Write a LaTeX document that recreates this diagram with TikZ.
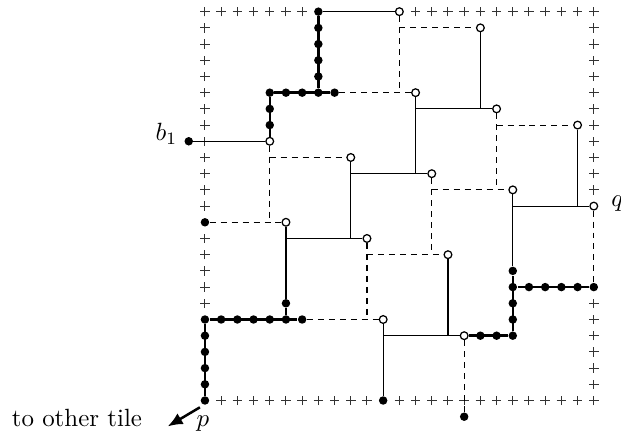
\documentclass[tikz,border=0pt]{standalone}
\usetikzlibrary{arrows.meta,backgrounds}
\begin{document}
\begin{tikzpicture}[x=6.5pt,y=6.5pt,
  dot/.style={circle,fill=black,inner sep=0pt,minimum size=3.4pt},
  hole/.style={circle,draw=black,fill=white,line width=0.5pt,inner sep=0pt,minimum size=3.1pt},
  bond/.style={line width=0.45pt},
  dual/.style={line width=0.45pt,dash pattern=on 2.4pt off 2pt},
  heavy/.style={line width=1pt},
  label/.style={inner sep=0pt},
  gridplus/.pic={\draw[line width=0.4pt,black!80] (-1.9pt,0)--(1.9pt,0) (0,-1.9pt)--(0,1.9pt);}
]
\useasboundingbox (-12.65,-2.44) rectangle (25.68,24.72);

% open vertices
\foreach \x/\y in {12/24,4/16,13/19,17/23,9/15,18/18,23/17,14/14,5/11,10/10,19/13,24/12,15/9,11/5,16/4}
  \node[hole] (h\x x\y) at (\x,\y) {};

% filled vertices
\foreach \x/\y in {7/24,7/23,7/22,7/21,7/20,7/19,8/19,6/19,5/19,4/19,4/18,4/17,
                   0/11,
                   5/6,5/5,0/5,1/5,2/5,3/5,4/5,6/5,0/4,0/3,0/2,0/1,0/0,
                   11/0,
                   17/4,18/4,19/4,19/5,19/6,19/7,19/8,20/7,21/7,22/7,23/7,24/7}
  \node[dot] (d\x x\y) at (\x,\y) {};
\node[dot] (b1) at (-1,16) {};
\node[dot] (d16xm1) at (16,-1) {};

% labels
\node[label,anchor=base east] (lb) at (-1.67,16.04) {$b_1$};
\node[label,anchor=base west] (lq) at (25.05,12.0) {$q$};
\node[label,anchor=base west] (lp) at (-0.55,-1.62) {$p$};
\node[label,anchor=base east] (lt) at (-3.85,-1.62) {to other tile};
\coordinate (arrs) at (-0.31,-0.42);
\coordinate (arre) at (-2.3,-1.6);
\draw[line width=1pt,-{Latex[length=6pt,width=5pt]}] (arrs) -- (arre);

\begin{scope}[on background layer]
  % boundary crosses
  \foreach \i in {0,...,6,13,14,...,24} \pic at (\i,24) {gridplus};
  \foreach \i in {1,...,10,12,13,...,24} \pic at (\i,0) {gridplus};
  \foreach \j in {6,...,10,12,13,...,24} \pic at (0,\j) {gridplus};
  \foreach \j in {0,...,6,13,14,...,24} \pic at (24,\j) {gridplus};

  % solid edges
  \draw[bond] (d7x24) -- (h12x24);
  \draw[bond] (b1) -- (h4x16);
  \draw[bond] (h17x23) -- (h17x23 |- h18x18);
  \draw[bond] (h13x19) -- (h13x19 |- h14x14);
  \draw[bond] (h13x19 |- h18x18) -- (h18x18);
  \draw[bond] (h9x15) -- (h9x15 |- h10x10);
  \draw[bond] (h9x15 |- h14x14) -- (h14x14);
  \draw[bond] (h5x11) -- (d5x6);
  \draw[bond] (h5x11 |- h10x10) -- (h10x10);
  \draw[bond] (h23x17) -- (h23x17 |- h24x12);
  \draw[bond] (h19x13 |- h24x12) -- (h24x12);
  \draw[bond] (h19x13) -- (d19x8);
  \draw[bond] (h15x9) -- (h15x9 |- h16x4);
  \draw[bond] (h11x5) -- (d11x0);
  \draw[bond] (h11x5 |- h16x4) -- (h16x4);

  % dashed edges
  \draw[dual] (d8x19) -- (h13x19);
  \draw[dual] (h12x24) -- (h12x24 |- h13x19);
  \draw[dual] (h12x24 |- h17x23) -- (h17x23);
  \draw[dual] (h4x16) -- (h4x16 |- h5x11);
  \draw[dual] (h4x16 |- h9x15) -- (h9x15);
  \draw[dual] (d0x11) -- (h5x11);
  \draw[dual] (h18x18) -- (h18x18 |- h19x13);
  \draw[dual] (h18x18 |- h23x17) -- (h23x17);
  \draw[dual] (h14x14) -- (h14x14 |- h15x9);
  \draw[dual] (h14x14 |- h19x13) -- (h19x13);
  \draw[dual] (h10x10) -- (h10x10 |- h11x5);
  \draw[dual] (h10x10 |- h15x9) -- (h15x9);
  \draw[dual] (d6x5) -- (h11x5);
  \draw[dual] (h24x12) -- (d24x7);
  \draw[dual] (h16x4) -- (d16xm1);

  % heavy paths
  \draw[heavy] (d7x24) -- (d7x19);
  \draw[heavy] (d4x19) -- (d8x19);
  \draw[heavy] (d4x19) -- (h4x16);
  \draw[heavy] (d5x6) -- (d5x5);
  \draw[heavy] (d0x5) -- (d6x5);
  \draw[heavy] (d0x5) -- (d0x0);
  \draw[heavy] (h16x4) -- (d19x4) -- (d19x8);
  \draw[heavy] (d19x7) -- (d24x7);
\end{scope}
\end{tikzpicture}
\end{document}
